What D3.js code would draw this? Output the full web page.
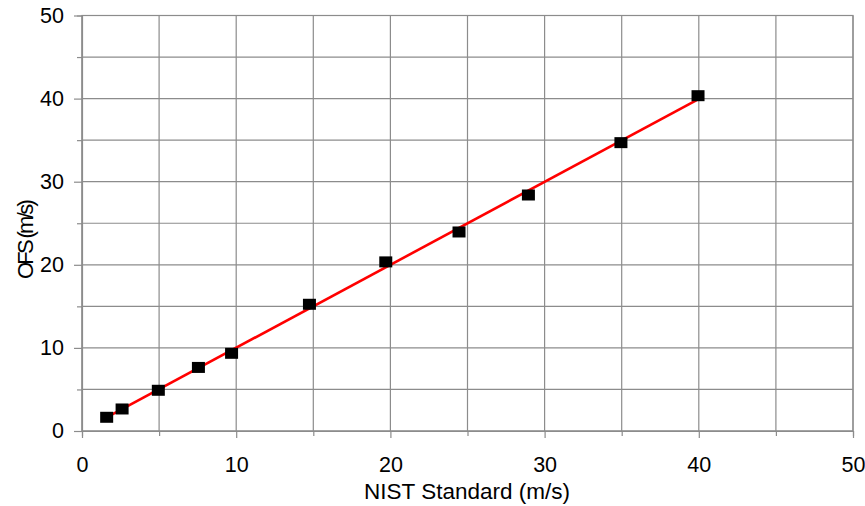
<!DOCTYPE html>
<html><head><meta charset="utf-8">
<script src="https://cdn.jsdelivr.net/npm/d3@7"></script>
<style>body{margin:0;background:#fff}svg{display:block}</style>
</head><body>
<script>
const nistX = [1.6, 2.6, 4.95, 7.55, 9.7, 14.75, 19.7, 24.45, 28.95, 34.95, 39.95];
const ofsY  = [1.65, 2.65, 4.9, 7.65, 9.35, 15.25, 20.35, 23.95, 28.4, 34.7, 40.35];
const majorTicks = [0, 10, 20, 30, 40, 50];
const gridTicks = [0, 5, 10, 15, 20, 25, 30, 35, 40, 45, 50];
const xTitle = "NIST Standard (m/s)";
const yTitle = "OFS (m/s)";

const W = 865, H = 506;
const L = 82, R = 853, T = 15.5, B = 431;
const svg = d3.select("body").append("svg").attr("width", W).attr("height", H);
const x = d3.scaleLinear().domain([0, 50]).range([L, R]);
const y = d3.scaleLinear().domain([0, 50]).range([B, T]);
const grey = "#8c8c8c";
const font = "'Liberation Sans', Arial, sans-serif";

// gridlines
svg.append("g").selectAll("line").data(gridTicks).join("line")
  .attr("x1", d => x(d)).attr("x2", d => x(d)).attr("y1", T).attr("y2", B)
  .attr("stroke", grey).attr("stroke-width", 1.2);
svg.append("g").selectAll("line").data(gridTicks).join("line")
  .attr("y1", d => y(d)).attr("y2", d => y(d)).attr("x1", L).attr("x2", R)
  .attr("stroke", grey).attr("stroke-width", 1.2);

// axes
const xAxis = svg.append("g").attr("transform", `translate(0,${B})`)
  .call(d3.axisBottom(x).tickValues(gridTicks).tickSize(5).tickFormat(""));
xAxis.selectAll("line").filter(d => d % 10 === 0).attr("y2", 7);
const xMaj = svg.append("g").attr("transform", `translate(0,${B})`)
  .call(d3.axisBottom(x).tickValues(majorTicks).tickSize(0).tickPadding(26));
const yAxis = svg.append("g").attr("transform", `translate(${L},0)`)
  .call(d3.axisLeft(y).tickValues(gridTicks).tickSize(5).tickFormat(""));
yAxis.selectAll("line").filter(d => d % 10 === 0).attr("x2", -8);
const yMaj = svg.append("g").attr("transform", `translate(${L},0)`)
  .call(d3.axisLeft(y).tickValues(majorTicks).tickSize(0).tickPadding(18));
[xAxis, xMaj, yAxis, yMaj].forEach(g => {
  g.select(".domain").attr("stroke", grey).attr("stroke-width", 1.2);
  g.selectAll("line").attr("stroke", grey).attr("stroke-width", 1.2);
  g.selectAll("text").attr("fill", "#000").attr("font-family", font).attr("font-size", 21.5);
});
xMaj.select(".domain").remove(); yMaj.select(".domain").remove();
// border
svg.append("rect").attr("x", L).attr("y", T).attr("width", R - L).attr("height", B - T)
  .attr("fill", "none").attr("stroke", grey).attr("stroke-width", 1.2);

// trendline (least squares)
const mx = d3.mean(nistX), my = d3.mean(ofsY);
const slope = d3.sum(nistX.map((v, i) => (v - mx) * (ofsY[i] - my))) / d3.sum(nistX.map(v => (v - mx) ** 2));
const icpt = my - slope * mx;
const x0 = d3.min(nistX), x1 = d3.max(nistX);
svg.append("line")
  .attr("x1", x(x0)).attr("y1", y(icpt + slope * x0))
  .attr("x2", x(x1)).attr("y2", y(icpt + slope * x1))
  .attr("stroke", "#ff0000").attr("stroke-width", 2.6);

// markers
const mw = 13, mh = 11;
svg.append("g").selectAll("rect").data(nistX).join("rect")
  .attr("x", (d) => x(d) - mw / 2).attr("y", (d, i) => y(ofsY[i]) - mh / 2)
  .attr("width", mw).attr("height", mh).attr("fill", "#000");

// titles
svg.append("text").attr("x", 467).attr("y", 499).attr("text-anchor", "middle")
  .attr("font-family", font).attr("font-size", 22.5).attr("fill", "#000").text(xTitle);
svg.append("text").attr("transform", `translate(33,240.5) rotate(-90)`).attr("text-anchor", "middle")
  .attr("font-family", font).attr("font-size", 22).attr("letter-spacing", -2.7).attr("fill", "#000").text(yTitle);
</script>
</body></html>
